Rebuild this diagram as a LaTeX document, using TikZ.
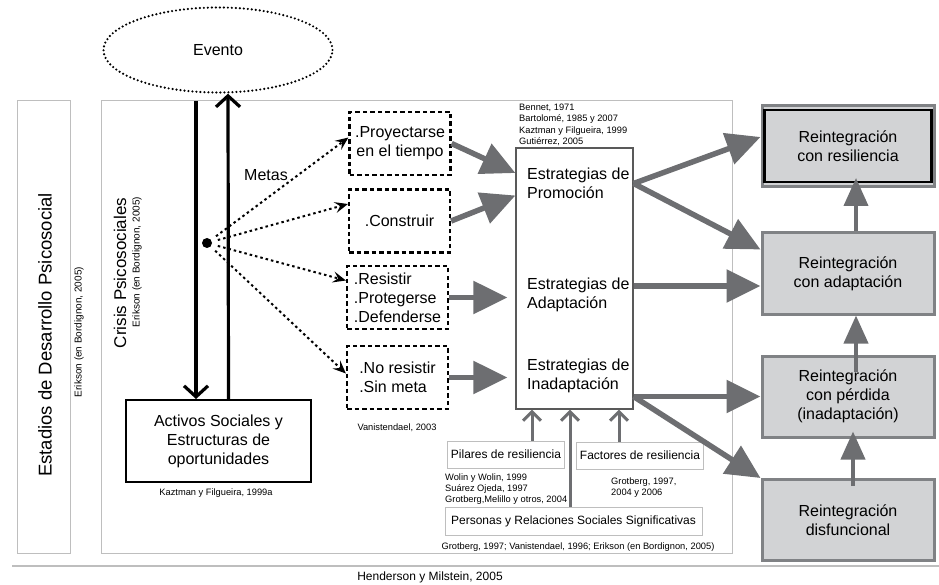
\documentclass[tikz,border=0pt]{standalone}
\usepackage{fontspec}
\setmainfont{Liberation Sans}
\usetikzlibrary{arrows.meta, positioning, calc, shapes.geometric}
\definecolor{framefaint}{HTML}{BEBEBE}
\definecolor{flowgrey}{HTML}{6D6E71}
\definecolor{boxfill}{HTML}{D2D3D5}
\definecolor{boxline}{HTML}{808285}
\newcommand{\reffont}{\fontsize{9.3}{11.4}\selectfont}
\tikzset{
  panel/.style={draw=framefaint, line width=1pt},
  optbox/.style={draw, line width=2.2pt, dash pattern=on 4.5pt off 3pt,
    minimum width=101pt, minimum height=63pt, inner sep=0pt},
  outbox/.style={draw=boxline, fill=boxfill, line width=3pt,
    minimum width=172pt, minimum height=81pt, align=center},
  srcbox/.style={draw=framefaint, line width=1pt, font=\fontsize{12}{14}\selectfont},
  flowarrow/.style={flowgrey, line width=5.5pt, -{Triangle[length=34pt,width=32pt]}},
  liftarrow/.style={flowgrey, line width=4pt, -{Triangle[length=28pt,width=24pt]}},
  feedarrow/.style={flowgrey, line width=3pt, -{Straight Barb[length=9pt,width=18pt]}},
  goalarrow/.style={line width=2pt, dash pattern=on 2.5pt off 3pt,
    -{Stealth[length=13pt,width=11pt,inset=5pt]}},
  loopline/.style={line width=3.2pt, -{Straight Barb[length=11pt,width=24pt]}},
}

\begin{document}
\begin{tikzpicture}[x=1pt, y=-1pt, font=\fontsize{16}{19}\selectfont]
  \useasboundingbox (0,0) rectangle (939,585);
  \draw[panel] (17,101) rectangle (70,553);
  \draw[panel] (101,101) rectangle (732,553);
  \draw[framefaint, line width=1.2pt] (12,566) -- (939,566);
  \node[rotate=90, font=\fontsize{18.5}{22}\selectfont] (stages) at (45,335)
    {Estadios de Desarrollo Psicosocial};
  \node[rotate=90, font=\fontsize{10}{12}\selectfont] (stagesref) at (79,332)
    {Erikson (en Bordignon, 2005)};
  \node[rotate=90, font=\fontsize{17}{20}\selectfont] (crisislab) at (120,273)
    {Crisis Psicosociales};
  \node[rotate=90, font=\fontsize{10}{12}\selectfont] (crisisref) at (137,262)
    {Erikson (en Bordignon, 2005)};

  % evento y activos
  \node[ellipse, draw, line width=2.4pt, dash pattern=on 0pt off 4pt, line cap=round,
    minimum width=229pt, minimum height=85pt] (evento) at (218,50) {Evento};
  \node[draw, line width=2pt, minimum width=185pt, minimum height=82pt, align=center]
    (activos) at (218.5,441) {Activos Sociales y\\Estructuras de\\oportunidades};
  \node[font=\reffont] (actref) at (216,493) {Kaztman y Filgueira, 1999a};
  \coordinate (crisistop) at (196,101);
  \draw[loopline] (crisistop) -- (crisistop |- activos.north);
  \draw[loopline] ([xshift=10pt]activos.north) -- ([xshift=10pt]evento.south);

  % metas
  \node[circle, fill, inner sep=0pt, minimum size=10pt] (crisis) at (207,243) {};
  \node (metas) at (266,175) {Metas};
  \foreach \name/\x/\y/\pos/\txt in {proy/400/143.5/center/{.Proyectarse\\en el tiempo},
      cons/399.5/221/center/.Construir,
      resi/397.5/297.5/left/{.Resistir\\.Protegerse\\.Defenderse},
      nores/397.5/377.5/left/{.No resistir\\.Sin meta}}{%
    \node[optbox, align=\pos] (\name) at (\x,\y) {\txt};}
  \node[font=\reffont] (vanref) at (397,428) {Vanistendael, 2003};
  \draw[goalarrow, shorten <=6pt] (crisis) -- ([yshift=6pt]proy.west);
  \draw[goalarrow, shorten <=6pt] (crisis) -- ([yshift=17pt]cons.west);
  \draw[goalarrow, shorten <=6pt] (crisis) -- ([yshift=17pt]resi.west);
  \draw[goalarrow, shorten <=6pt] (crisis) -- ([yshift=4pt]nores.west);

  % estrategias
  \node[draw=black!65, line width=1.2pt, minimum width=117pt, minimum height=261pt]
    (estr) at (574.5,278.5) {};
  \foreach \name/\y/\txt in {prom/183.5/Promoción, adap/295/Adaptación,
      inad/375.5/Inadaptación}{%
    \node[anchor=west, align=left, inner sep=0pt] (\name) at (527,\y)
      {Estrategias de\\\txt};}
  \node[anchor=west, align=left, font=\reffont, inner sep=0pt] (promref) at (519,125)
    {Bennet, 1971\\Bartolomé, 1985 y 2007\\Kaztman y Filgueira, 1999\\Gutiérrez, 2005};
  \draw[flowarrow] (proy.east) -- ($(estr.west |- prom.west)+(0,-10.5)$);
  \draw[flowarrow] (cons.east) -- ($(estr.west |- prom.west)+(0,12)$);
  \draw[flowarrow, shorten >=8pt] (resi.east) -- (resi.east -| estr.west);
  \draw[flowarrow, shorten >=8pt] (nores.east) -- (nores.east -| estr.west);

  % fuentes de resiliencia
  \node[srcbox, minimum width=114pt, minimum height=27pt] (pil) at (506,454.5)
    {Pilares de resiliencia};
  \node[srcbox, minimum width=126pt, minimum height=27pt] (fac) at (640,455.5)
    {Factores de resiliencia};
  \node[srcbox, minimum width=257pt, minimum height=28pt] (pers) at (573.5,521)
    {Personas y Relaciones Sociales Significativas};
  \node[anchor=west, align=left, font=\reffont, inner sep=0pt] (pilref) at (445,489)
    {Wolin y Wolin, 1999\\Suárez Ojeda, 1997\\Grotberg,Melillo y otros, 2004};
  \node[anchor=west, align=left, font=\reffont, inner sep=0pt] (facref) at (611,487.5)
    {Grotberg, 1997,\\2004 y 2006};
  \node[font=\reffont] (persref) at (578,547)
    {Grotberg, 1997; Vanistendael, 1996; Erikson (en Bordignon, 2005)};
  \path ($(pil.north)+(26,0)$) coordinate (pilup)
        ($(fac.north)+(-21,0)$) coordinate (facup)
        ($(pers.north)+(-3.5,0)$) coordinate (persup);
  \foreach \c in {pilup, facup, persup}
    \draw[feedarrow] (\c) -- (\c |- estr.south);

  % reintegracion
  \foreach \name/\y/\txt in {res/146/{Reintegración\\con resiliencia},
      adapt/273.5/{Reintegración\\con adaptación},
      perd/396.5/{Reintegración\\con pérdida\\(inadaptación)},
      disf/520/{Reintegración\\disfuncional}}{%
    \node[outbox] (\name) at (848,\y) {\txt};}
  \draw[line width=2.5pt] ($(res.north west)+(4,6)$) rectangle ($(res.south east)+(-4,-6)$);
  \draw[flowarrow] (estr.east |- prom.east) -- ($(res.west)+(0,-9)$);
  \draw[flowarrow] (estr.east |- prom.east) -- ($(adapt.north west)+(0,18)$);
  \draw[flowarrow] ($(estr.east |- adap.east)+(0,-9)$) -- ($(adapt.west |- adap.east)+(0,-9)$);
  \draw[flowarrow] (estr.east |- perd.west) -- (perd.west);
  \draw[flowarrow] (estr.east |- perd.west) -- (disf.north west);
  \draw[liftarrow] ($(adapt.north)+(8,0)$) -- ($(res.south)+(8,-10)$);
  \draw[liftarrow] ($(perd.north)+(8,17)$) -- ($(adapt.south)+(8,0)$);
  \draw[liftarrow] ($(disf.north)+(5,8)$) -- ($(perd.south)+(5,-7)$);

  \node[font=\fontsize{12}{14}\selectfont] (source) at (430,577) {Henderson y Milstein, 2005};
\end{tikzpicture}
\end{document}
